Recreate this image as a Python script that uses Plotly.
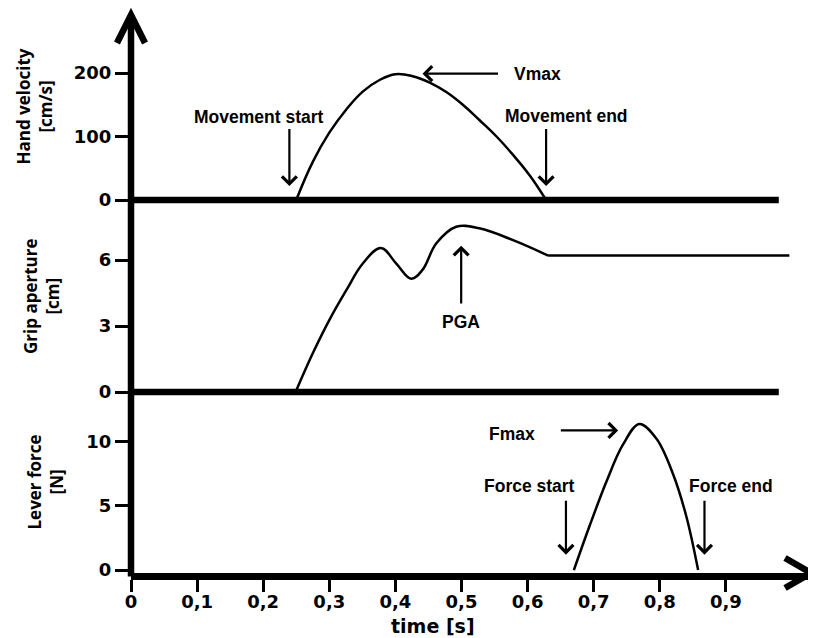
import plotly.graph_objects as go
from plotly.subplots import make_subplots

# ---------------- data ----------------
time_ticks = [0, 0.1, 0.2, 0.3, 0.4, 0.5, 0.6, 0.7, 0.8, 0.9]
time_labels = ["0", "0,1", "0,2", "0,3", "0,4", "0,5", "0,6", "0,7", "0,8", "0,9"]

vel_ticks = [0, 100, 200]
grip_ticks = [0, 3, 6]
force_ticks = [0, 5, 10]

# hand velocity [cm/s]
vel_t = [0.250, 0.275, 0.300, 0.326, 0.351, 0.376, 0.400, 0.426, 0.452, 0.477,
         0.502, 0.527, 0.553, 0.578, 0.603, 0.628]
vel_v = [0, 60, 106, 143, 171, 189, 198, 195, 185, 170,
         150, 126, 100, 71, 39, 0]

# grip aperture [cm]
grip_t = [0.249, 0.275, 0.300, 0.326, 0.351, 0.378, 0.401, 0.424, 0.441, 0.462,
          0.492, 0.527, 0.578, 0.631]
grip_v = [0, 1.76, 3.27, 4.64, 5.85, 6.55, 5.85, 5.15, 5.55, 6.76,
          7.51, 7.44, 6.9, 6.2]
grip_plateau_t = [0.631, 0.996]
grip_plateau_v = [6.2, 6.2]

# lever force [N]
force_t = [0.670, 0.694, 0.719, 0.744, 0.769, 0.795, 0.820, 0.840, 0.858]
force_v = [0, 3.46, 6.84, 9.72, 11.35, 10.2, 7.47, 4.2, 0]

baseline_end = 0.98  # end of the thick zero lines in the upper panels

# ---------------- layout geometry ----------------
OFF = 8                      # default page margin of the html body
W, H = 816 - OFF, 638 - OFF  # figure size
L, R, T, B = 131 - OFF, 4, 13 - OFF, 65
PX_PER_S = 661.0
PH = H - T - B
PW = W - L - R
X_MAX = PW / PX_PER_S
F_PX = 13.3                  # px per newton in the force panel


def py2paper(py):  # py in page pixels
    return (H - B - (py - OFF)) / PH


def px2paper(px):  # px in page pixels
    return (px - OFF - L) / PW


d1 = [py2paper(200), 1.0]
d2 = [py2paper(392), py2paper(200)]
d3 = [0.0, py2paper(392)]

tick_font = dict(family="DejaVu Sans", size=18, color="black", weight="bold")
title_font = dict(family="Open Sans", size=17, color="black", weight="bold")
ann_font = dict(family="Liberation Sans", size=17.5, color="black", weight="bold")

fig = make_subplots(rows=3, cols=1, shared_xaxes=True, vertical_spacing=0)

line_style = dict(color="black", width=2.5)
fig.add_trace(go.Scatter(x=vel_t, y=vel_v, mode="lines",
                         line=dict(**line_style, shape="spline", smoothing=1.2)),
              row=1, col=1)
fig.add_trace(go.Scatter(x=grip_t, y=grip_v, mode="lines",
                         line=dict(**line_style, shape="spline", smoothing=1.1)),
              row=2, col=1)
fig.add_trace(go.Scatter(x=grip_plateau_t, y=grip_plateau_v, mode="lines",
                         line=dict(**line_style)),
              row=2, col=1)
fig.add_trace(go.Scatter(x=force_t, y=force_v, mode="lines",
                         line=dict(**line_style, shape="spline", smoothing=1.0)),
              row=3, col=1)

common_x = dict(range=[0, X_MAX], showgrid=False, zeroline=False, fixedrange=True)
fig.update_xaxes(**common_x)
fig.update_layout(
    xaxis=dict(showticklabels=False, ticks=""),
    xaxis2=dict(showticklabels=False, ticks=""),
    xaxis3=dict(tickmode="array", tickvals=time_ticks, ticktext=time_labels,
                ticks="outside", ticklen=12, tickwidth=2.5, tickcolor="black",
                showline=True, linewidth=6.5, linecolor="black",
                ticklabelstandoff=-5, tickfont=tick_font),
)

common_y = dict(showgrid=False, zeroline=False, ticks="outside", ticklen=15,
                tickwidth=2.5, tickcolor="black", tickfont=tick_font,
                tickmode="array", showline=False)
fig.update_layout(
    yaxis=dict(domain=d1, range=[0, 187 / 0.635], tickvals=vel_ticks, **common_y),
    yaxis2=dict(domain=d2, range=[0, 192 / 22.0], tickvals=grip_ticks, **common_y),
    yaxis3=dict(domain=d3, range=[-3 / F_PX, 184 / F_PX], tickvals=force_ticks, **common_y),
)

# ---------------- axis lines, baselines, big arrows ----------------
AXW = 6.5
shapes = []
# vertical axis
shapes.append(dict(type="line", xref="paper", yref="paper",
                   x0=0, x1=0, y0=py2paper(576.5), y1=py2paper(15),
                   line=dict(color="black", width=AXW)))
# baselines of upper panels
for yb in (d1[0], d2[0]):
    shapes.append(dict(type="line", xref="paper", yref="paper",
                       x0=0, x1=baseline_end / X_MAX, y0=yb, y1=yb,
                       line=dict(color="black", width=AXW)))
# top arrow head
shapes.append(dict(type="path", xref="paper", yref="paper",
                   path="M{:.4f},{:.4f} L{:.4f},{:.4f} L{:.4f},{:.4f}".format(
                       px2paper(117), py2paper(43), px2paper(131), py2paper(15),
                       px2paper(145), py2paper(43)),
                   line=dict(color="black", width=AXW)))
# right arrow head
shapes.append(dict(type="path", xref="paper", yref="paper",
                   path="M{:.4f},{:.4f} L{:.4f},{:.4f} L{:.4f},{:.4f}".format(
                       px2paper(785), py2paper(558), px2paper(811), py2paper(573),
                       px2paper(785), py2paper(588)),
                   line=dict(color="black", width=AXW)))
fig.update_layout(shapes=shapes)

# ---------------- annotations ----------------
anns = []


def label(text, x, y, xref, yref):
    anns.append(dict(text=text, x=x, y=y, xref=xref, yref=yref, showarrow=False,
                     xanchor="center", yanchor="middle", font=ann_font))


def arrow(xt, yt, xs, ys, xref, yref):
    anns.append(dict(text="", x=xt, y=yt, ax=xs, ay=ys, xref=xref, yref=yref,
                     axref=xref, ayref=yref, showarrow=True, arrowhead=4,
                     arrowsize=1.3, arrowwidth=2.2, arrowcolor="black", standoff=0))


label("Movement start", 0.194, 131, "x", "y")
arrow(0.2396, 22, 0.2396, 114, "x", "y")
label("Movement end", 0.659, 132, "x", "y")
arrow(0.628, 22, 0.628, 114, "x", "y")
label("Vmax", 0.615, 199, "x", "y")
arrow(0.441, 199, 0.5575, 199, "x", "y")
label("PGA", 0.4985, 3.18, "x2", "y2")
arrow(0.4995, 6.65, 0.4995, 3.95, "x2", "y2")
label("Fmax", 0.577, 10.6, "x3", "y3")
arrow(0.737, 10.85, 0.648, 10.85, "x3", "y3")
label("Force start", 0.603, 6.5, "x3", "y3")
arrow(0.658, 1.2, 0.658, 5.5, "x3", "y3")
label("Force end", 0.907, 6.5, "x3", "y3")
arrow(0.8676, 1.2, 0.8676, 5.5, "x3", "y3")

# y-axis titles
for text, xpx, yref in (("Hand velocity<br>[cm/s]", 34, "y domain"),
                        ("Grip aperture<br>[cm]", 41, "y2 domain"),
                        ("Lever force<br>[N]", 45, "y3 domain")):
    anns.append(dict(text=text, x=px2paper(xpx), y=0.5, xref="paper", yref=yref,
                     showarrow=False, textangle=-90, xanchor="center",
                     yanchor="middle", font=title_font))

# x-axis title
anns.append(dict(text="time [s]", x=px2paper(433), y=py2paper(626), xref="paper",
                 yref="paper", showarrow=False, xanchor="center", yanchor="middle",
                 font=dict(family="DejaVu Sans", size=19, color="black", weight="bold")))

fig.update_layout(annotations=anns)

fig.update_layout(width=W, height=H, margin=dict(l=L, r=R, t=T, b=B),
                  paper_bgcolor="white", plot_bgcolor="white", showlegend=False)

fig.write_html("out.html")
